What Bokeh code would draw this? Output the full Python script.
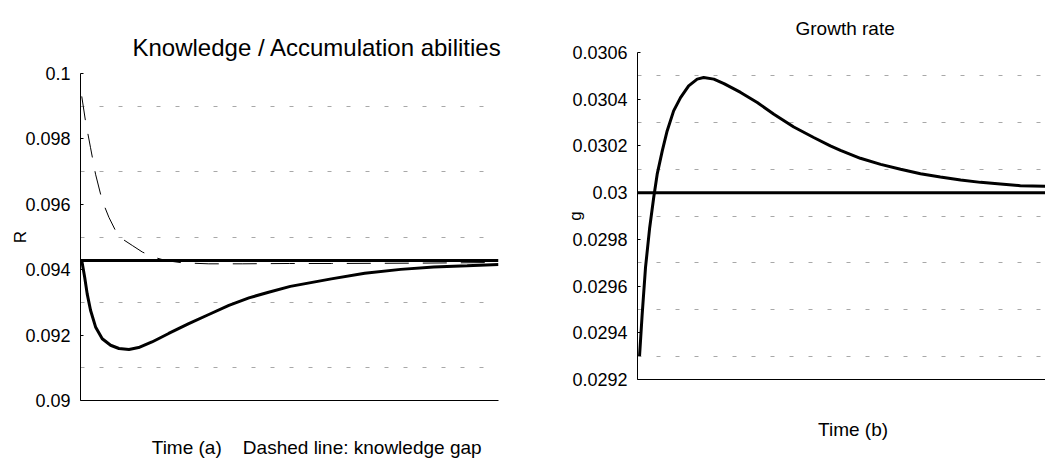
from bokeh.plotting import figure
from bokeh.layouts import row
from bokeh.models import FixedTicker, Range1d
from bokeh.embed import file_html
from bokeh.resources import INLINE

FONT = "Liberation Sans"

# ---------- Panel (a): Knowledge / Accumulation abilities ----------
t_a_solid = [0.3, 1.0, 1.6, 2.4, 3.6, 5.2, 7.2, 9.2, 11.6, 13.9, 17.1, 21.1, 25.9,
             30.7, 35.5, 40.3, 45.0, 50.2, 60.0, 68.0, 76.6, 84.5, 92.5, 100.0]
R_solid = [0.09428, 0.09377, 0.09326, 0.09276, 0.09225, 0.09189, 0.09169, 0.09159,
           0.09156, 0.09162, 0.09179, 0.09205, 0.09235, 0.09263, 0.09291, 0.09314,
           0.09331, 0.09349, 0.09372, 0.09389, 0.09401, 0.09408, 0.09412, 0.09416]

t_a_dashed = [0.3, 1.2, 2.4, 3.6, 5.2, 6.8, 8.4, 10.0, 12.4, 14.8, 17.6, 20.4, 24.4,
              30.7, 38.7, 50.0, 60.0, 80.0, 100.0]
R_gap = [0.09930, 0.09854, 0.09773, 0.09692, 0.09611, 0.09560, 0.09519, 0.09494,
         0.09474, 0.09454, 0.09438, 0.09428, 0.09421, 0.09418, 0.09418, 0.09419,
         0.09419, 0.09420, 0.09422]

t_a_steady = [0.0, 100.0]
R_steady = [0.09428, 0.09428]

y_ticks_a = [0.09, 0.092, 0.094, 0.096, 0.098, 0.1]
y_tick_labels_a = ["0.09", "0.092", "0.094", "0.096", "0.098", "0.1"]
grid_a = [0.091, 0.093, 0.095, 0.097, 0.099]
x_caption_a = "Time (a)\u00a0\u00a0\u00a0 Dashed line: knowledge gap"

# ---------- Panel (b): Growth rate ----------
t_b = [0.5, 1.15, 1.97, 3.0, 4.0, 4.85, 6.1, 7.3, 8.9, 10.6, 12.6, 14.7, 16.3, 18.8,
       21.3, 25.4, 29.5, 33.6, 38.5, 43.4, 47.5, 50.0, 54.9, 59.9, 64.8, 69.7, 74.6,
       79.6, 84.5, 89.4, 94.3, 100.5]
g_vals = [0.02930, 0.029479, 0.029679, 0.02985, 0.02998, 0.030079, 0.030179, 0.030264,
          0.03035, 0.030407, 0.030457, 0.030486, 0.030493, 0.030486, 0.030467, 0.030429,
          0.030386, 0.030336, 0.030281, 0.030236, 0.03020, 0.030181, 0.030147, 0.030121,
          0.03010, 0.030081, 0.030067, 0.030054, 0.030044, 0.030037, 0.03003, 0.030027]

t_b_steady = [0.0, 100.5]
g_steady = [0.03, 0.03]

y_ticks_b = [0.0292, 0.0294, 0.0296, 0.0298, 0.03, 0.0302, 0.0304, 0.0306]
y_tick_labels_b = ["0.0292", "0.0294", "0.0296", "0.0298", "0.03", "0.0302", "0.0304", "0.0306"]
grid_b = [0.0293, 0.0295, 0.0297, 0.0299, 0.0301, 0.0303, 0.0305]
x_caption_b = "Time (b)"


def style(p, y_ticks, y_labels, grid_ticks, ylabel, label_standoff,
          caption, caption_at, caption_standoff):
    p.outline_line_color = None
    p.background_fill_color = "white"
    p.border_fill_color = "white"
    p.xgrid.visible = False
    p.ygrid.ticker = FixedTicker(ticks=grid_ticks)
    p.ygrid.grid_line_color = "#a8a8a8"
    p.ygrid.grid_line_dash = "4 15"
    p.ygrid.grid_line_width = 1

    ya = p.yaxis[0]
    ya.ticker = FixedTicker(ticks=y_ticks)
    ya.major_label_overrides = dict(zip(y_ticks, y_labels))
    ya.major_tick_in = 3
    ya.major_tick_out = 0
    ya.minor_tick_line_color = None
    ya.major_label_standoff = 10
    ya.major_label_text_font = FONT
    ya.major_label_text_font_size = "18px"
    ya.major_label_text_color = "black"
    ya.axis_line_color = "black"
    ya.major_tick_line_color = "black"
    ya.axis_label = ylabel
    ya.axis_label_text_font = FONT
    ya.axis_label_text_font_size = "17px"
    ya.axis_label_text_font_style = "normal"
    ya.axis_label_text_color = "black"
    ya.axis_label_standoff = label_standoff

    # x axis: no ticks; the caption is shown as a single label under the axis
    xa = p.xaxis[0]
    xa.ticker = FixedTicker(ticks=[caption_at])
    xa.major_label_overrides = {caption_at: caption}
    xa.major_tick_in = 0
    xa.major_tick_out = 0
    xa.major_tick_line_color = None
    xa.minor_tick_line_color = None
    xa.major_label_standoff = caption_standoff
    xa.major_label_text_font = FONT
    xa.major_label_text_font_size = "19px"
    xa.major_label_text_color = "black"
    xa.axis_line_color = "black"


def set_title(t, text, size, offset, standoff):
    t.text = text
    t.align = "left"
    t.offset = offset
    t.standoff = standoff
    t.text_font = FONT
    t.text_font_size = size
    t.text_font_style = "normal"
    t.text_color = "black"


pa = figure(width=520, height=460, x_range=Range1d(0, 100), y_range=Range1d(0.09, 0.1),
            output_backend="svg", toolbar_location=None, frame_align=False,
            min_border_left=80, min_border_right=22, min_border_top=73, min_border_bottom=59)
style(pa, y_ticks_a, y_tick_labels_a, grid_a, "R", -8, x_caption_a, 56.5, 36)
set_title(pa.title, "Knowledge / Accumulation abilities", "24px", 52, 26)

pa.line(t_a_dashed, R_gap, line_color="black", line_width=1, line_dash="24 14")
pa.line(t_a_steady, R_steady, line_color="black", line_width=3)
pa.line(t_a_solid, R_solid, line_color="black", line_width=3)

pb = figure(width=525, height=460, x_range=Range1d(0, 100.5), y_range=Range1d(0.0292, 0.0306),
            output_backend="svg", toolbar_location=None, frame_align=False,
            min_border_left=117, min_border_right=0, min_border_top=52, min_border_bottom=81)
style(pb, y_ticks_b, y_tick_labels_b, grid_b, "g", -16, x_caption_b, 53.1, 39)
set_title(pb.title, "Growth rate", "19px", 158, 28)

pb.line(t_b_steady, g_steady, line_color="black", line_width=3)
pb.line(t_b, g_vals, line_color="black", line_width=3)

layout = row(pa, pb, spacing=0)
open("out.html", "w").write(file_html(layout, INLINE))
